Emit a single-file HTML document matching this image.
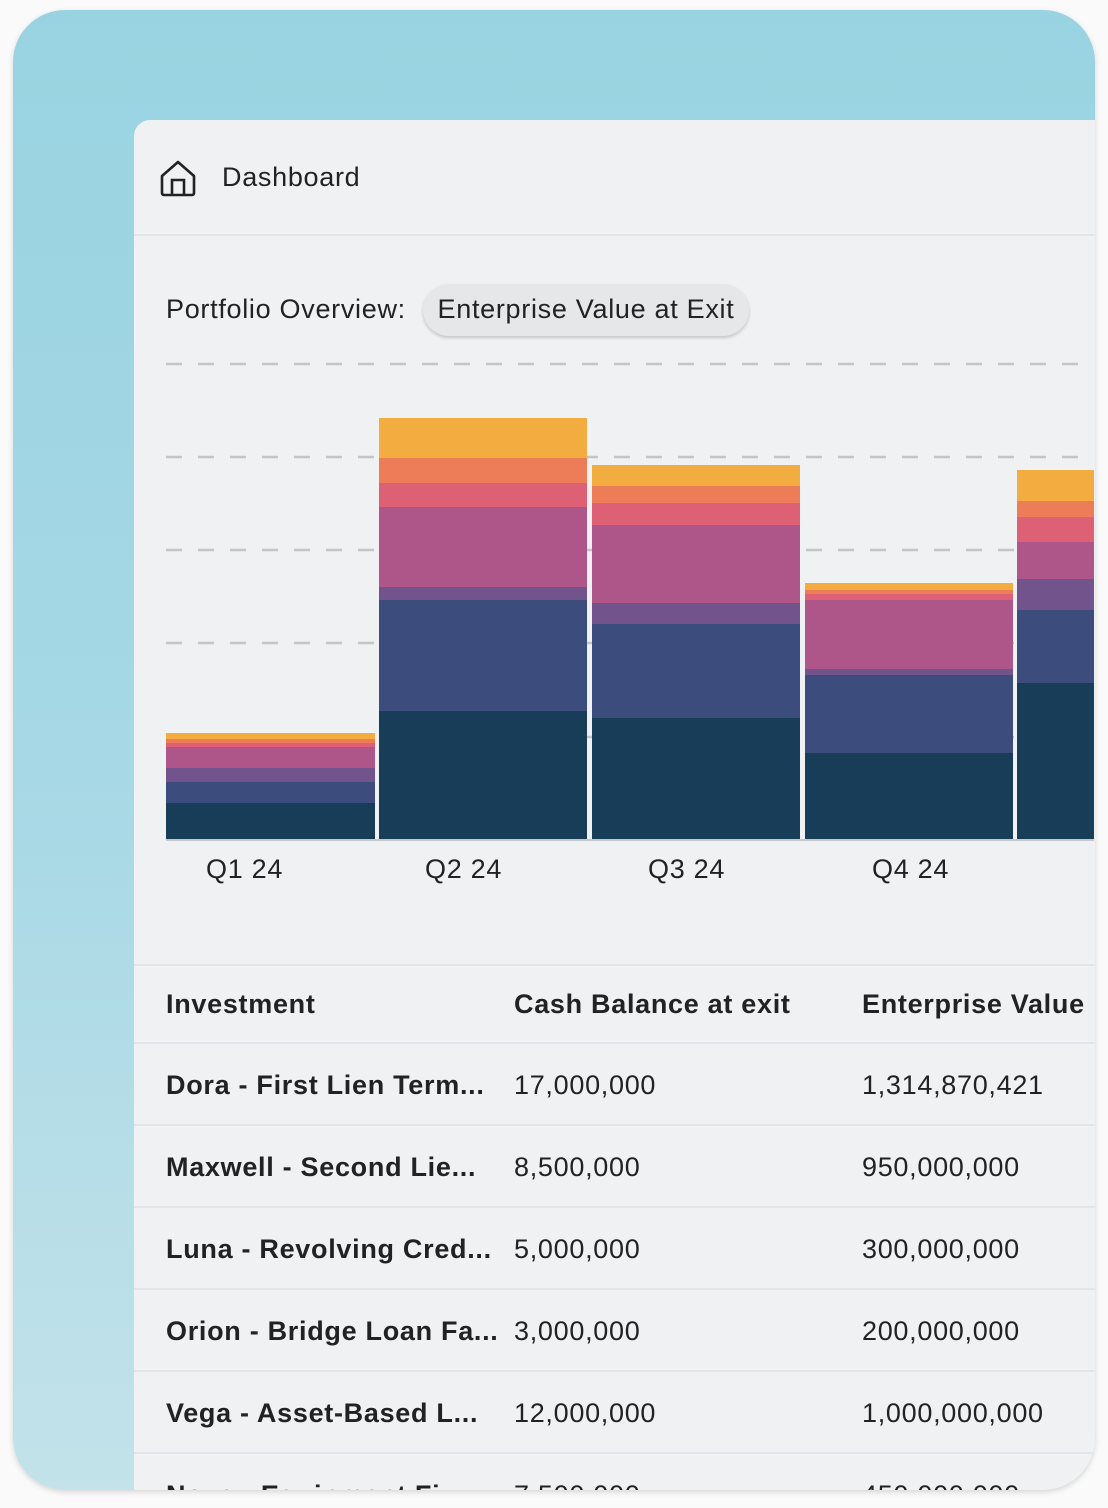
<!DOCTYPE html>
<html><head><meta charset="utf-8"><style>
*{margin:0;padding:0;box-sizing:border-box}
body{width:1108px;height:1508px;background:#fafafa;position:relative;overflow:hidden;font-family:"Liberation Sans",sans-serif;color:#222}
#frame{position:absolute;left:13px;top:10px;width:1082px;height:1480px;border-radius:52px;overflow:hidden;background:linear-gradient(180deg,#99d3e1 0%,#a6d8e5 50%,#c3e2ea 100%);box-shadow:0 2px 6px rgba(0,0,0,.15)}
#panel{position:absolute;left:121px;top:110px;width:1000px;height:1400px;background:#f0f1f3;border-top-left-radius:16px}
.a{position:absolute;white-space:nowrap}
.hr{position:absolute;left:0;width:1000px;height:2px;background:#e1e6ec}
.t{font-size:27px;letter-spacing:0.7px}
.b{font-weight:bold}
</style></head><body>
<div id="frame">
<div id="panel">
 <svg class="a" style="left:26px;top:40px" width="36" height="38" viewBox="0 0 36 38"><path d="M2 16 L18 2 L34 16 V33 a2 2 0 0 1 -2 2 H4 a2 2 0 0 1 -2 -2 Z" fill="none" stroke="#222" stroke-width="2.6" stroke-linejoin="round"/><path d="M12 35 V20 H24 V35" fill="none" stroke="#222" stroke-width="2.6"/></svg>
 <div class="a t" style="left:88px;top:42px">Dashboard</div>
 <div class="hr" style="top:114px"></div>
 <div class="a t" style="left:32px;top:174px">Portfolio Overview:</div>
 <div class="a t" style="left:289px;top:164px;width:326px;height:52px;padding:10px 0;text-align:center;border-radius:26px;background:#e6e7e9;box-shadow:0 2px 3px rgba(0,0,0,.18)">Enterprise Value at Exit</div>
 <svg class="a" style="left:0;top:0" width="1000" height="760" viewBox="134 120 1000 760">
  <g stroke="#c4c5c7" stroke-width="2.5" stroke-dasharray="16 16">
   <line x1="166" y1="364" x2="1080" y2="364"/><line x1="166" y1="457" x2="1080" y2="457"/><line x1="166" y1="550" x2="1080" y2="550"/><line x1="166" y1="643" x2="1080" y2="643"/><line x1="166" y1="737" x2="1080" y2="737"/>
  </g>
  <g id="bars"></g>
  <line x1="166" y1="840" x2="1094" y2="840" stroke="#c8c9cc" stroke-width="2"/>
 </svg>
 <div class="a t" style="left:72px;top:734px">Q1 24</div>
 <div class="a t" style="left:291px;top:734px">Q2 24</div>
 <div class="a t" style="left:514px;top:734px">Q3 24</div>
 <div class="a t" style="left:738px;top:734px">Q4 24</div>
 <div class="hr" style="top:844px"></div>
 <div class="a t b" style="left:32px;top:869px">Investment</div>
 <div class="a t b" style="left:380px;top:869px">Cash Balance at exit</div>
 <div class="a t b" style="left:728px;top:869px">Enterprise Value</div>
 <div class="hr" style="top:922px"></div>
 <div class="a t b" style="left:32px;top:950px">Dora - First Lien Term...</div><div class="a t" style="left:380px;top:950px">17,000,000</div><div class="a t" style="left:728px;top:950px">1,314,870,421</div>
 <div class="hr" style="top:1004px"></div>
 <div class="a t b" style="left:32px;top:1032px">Maxwell - Second Lie...</div><div class="a t" style="left:380px;top:1032px">8,500,000</div><div class="a t" style="left:728px;top:1032px">950,000,000</div>
 <div class="hr" style="top:1086px"></div>
 <div class="a t b" style="left:32px;top:1114px">Luna - Revolving Cred...</div><div class="a t" style="left:380px;top:1114px">5,000,000</div><div class="a t" style="left:728px;top:1114px">300,000,000</div>
 <div class="hr" style="top:1168px"></div>
 <div class="a t b" style="left:32px;top:1196px">Orion - Bridge Loan Fa...</div><div class="a t" style="left:380px;top:1196px">3,000,000</div><div class="a t" style="left:728px;top:1196px">200,000,000</div>
 <div class="hr" style="top:1250px"></div>
 <div class="a t b" style="left:32px;top:1278px">Vega - Asset-Based L...</div><div class="a t" style="left:380px;top:1278px">12,000,000</div><div class="a t" style="left:728px;top:1278px">1,000,000,000</div>
 <div class="hr" style="top:1332px"></div>
 <div class="a t b" style="left:32px;top:1360px">Nova - Equipment Fi...</div><div class="a t" style="left:380px;top:1360px">7,500,000</div><div class="a t" style="left:728px;top:1360px">450,000,000</div>
</div>
</div>
<script>
const C=["#f2ac40","#ed7d58","#de6075","#ae5689","#72538b","#3c4c7c","#173d58"];
const B=[[166,375,[733,739,743,747,768,782,803]],[379,587,[418,458,483,507,587,600,711]],[592,800,[465,486,503,525,603,624,718]],[805,1013,[583,590,594,600,669,675,753]],[1017,1094,[470,501,517,542,579,610,683]]];
let s="";for(const [x0,x1,y] of B){for(let i=0;i<7;i++){const ya=y[i],yb=i<6?y[i+1]:840;s+=`<rect x="${x0}" y="${ya}" width="${x1-x0}" height="${yb-ya}" fill="${C[i]}"/>`;}}
document.getElementById("bars").innerHTML=s;
</script>
</body></html>
